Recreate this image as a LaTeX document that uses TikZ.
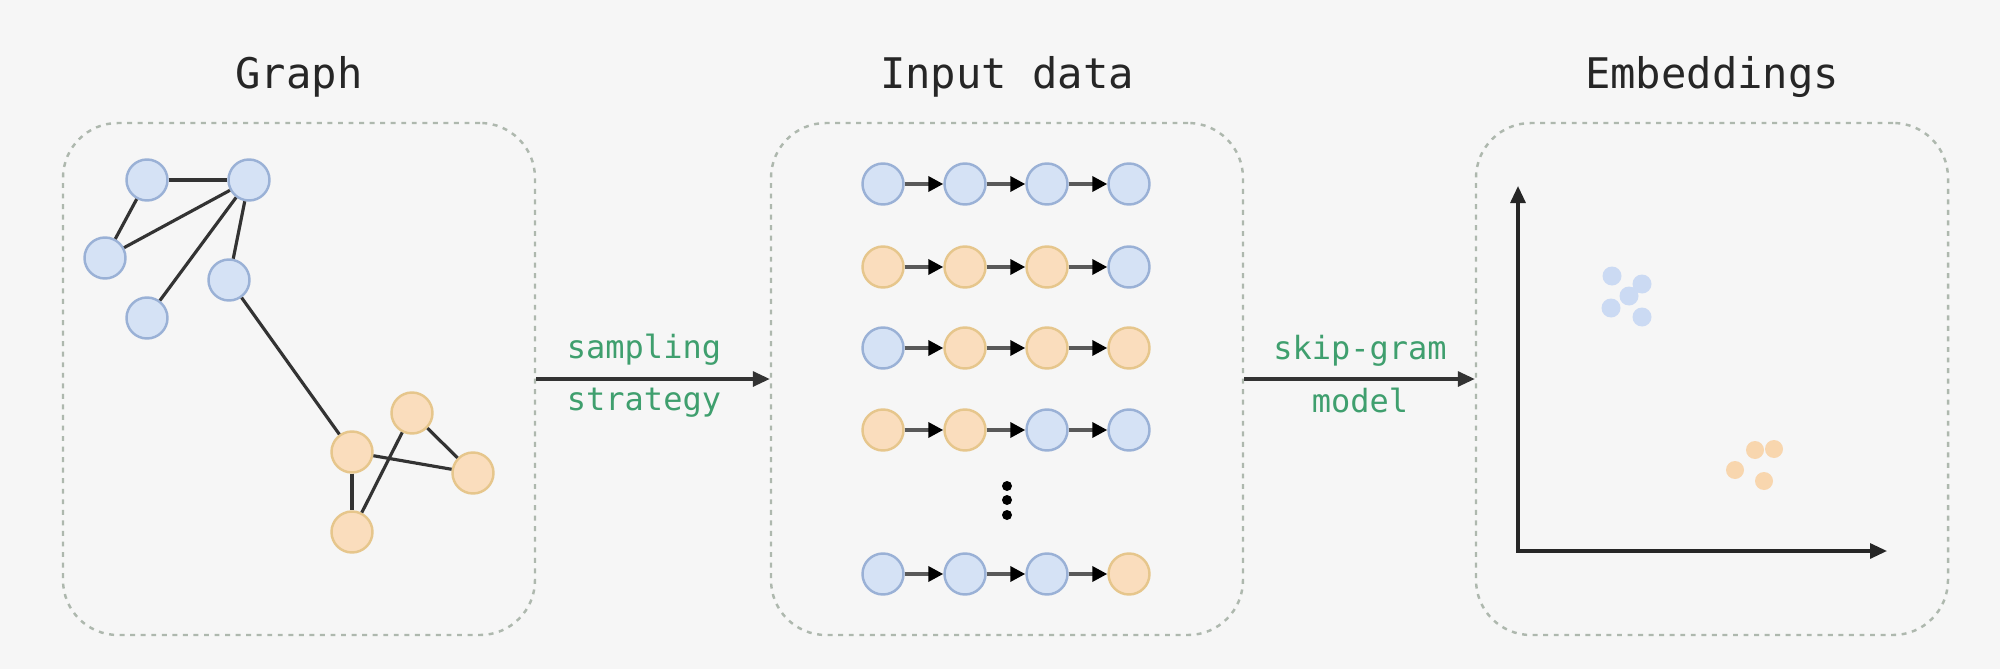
\documentclass[tikz,border=0pt]{standalone}
\usepackage{fontspec}
\setmonofont{DejaVu Sans Mono}
\usetikzlibrary{arrows.meta}

\definecolor{bgcol}{HTML}{F6F6F6}
\definecolor{bluefill}{HTML}{D5E2F5}
\definecolor{bluedraw}{HTML}{9AB1D6}
\definecolor{orangefill}{HTML}{FADDBD}
\definecolor{orangedraw}{HTML}{E6C68C}
\definecolor{boxline}{HTML}{AEB8AE}
\definecolor{labelgreen}{HTML}{3F9F6E}
\definecolor{embblue}{HTML}{CBDAF3}
\definecolor{embor}{HTML}{F8D6AE}

\tikzset{
	bnode/.style={circle, draw=bluedraw, fill=bluefill, line width=0.7pt, minimum size=0.41cm, inner sep=0pt},
	onode/.style={circle, draw=orangedraw, fill=orangefill, line width=0.7pt, minimum size=0.41cm, inner sep=0pt},
	panel/.style={draw=boxline, dash pattern=on 1.4pt off 1.6pt, line width=0.7pt, rounded corners=0.55cm, minimum width=4.72cm, minimum height=5.12cm},
	title/.style={font=\ttfamily\fontsize{12}{14}\selectfont, text=black!85, anchor=base},
	steplabel/.style={font=\ttfamily\fontsize{9.1}{11}\selectfont, text=labelgreen, anchor=base},
	link/.style={draw=black!80, line width=0.9pt},
	walk/.style={draw=black!65, line width=1pt, -{Triangle[length=0.15cm, width=0.15cm, color=black]}},
	flow/.style={draw=black!80, line width=0.9pt, -{Triangle[length=0.17cm, width=0.15cm]}},
	dotnode/.style={circle, fill=black, inner sep=0pt, minimum size=0.1cm},
	bemb/.style={circle, fill=embblue, inner sep=0pt, minimum size=0.19cm},
	oemb/.style={circle, fill=embor, inner sep=0pt, minimum size=0.18cm}
}

\begin{document}
\begin{tikzpicture}
	% Background
	\fill[bgcol] (0,0) rectangle (20,6.69);
	\useasboundingbox (0,0) rectangle (20,6.69);
	
	% Panels and titles
	\node[panel] (graph) at (2.99,2.90) {};
	\node[panel] (input) at (10.07,2.90) {};
	\node[panel] (embed) at (17.12,2.90) {};
	\node[title] (tgraph) at (2.99,5.81) {Graph};
	\node[title] (tinput) at (10.07,5.81) {Input data};
	\node[title] (tembed) at (17.12,5.81) {Embeddings};
	
	% Graph nodes
	\node[bnode] (b1) at (1.47,4.89) {};
	\node[bnode] (b2) at (2.49,4.89) {};
	\node[bnode] (b3) at (1.05,4.11) {};
	\node[bnode] (b4) at (2.29,3.89) {};
	\node[bnode] (b5) at (1.47,3.51) {};
	\node[onode] (o1) at (4.12,2.56) {};
	\node[onode] (o2) at (3.52,2.17) {};
	\node[onode] (o3) at (4.73,1.96) {};
	\node[onode] (o4) at (3.52,1.37) {};
	
	% Graph edges
	\draw[link] (b1) -- (b2);
	\draw[link] (b1) -- (b3);
	\draw[link] (b3) -- (b2);
	\draw[link] (b2) -- (b4);
	\draw[link] (b2) -- (b5);
	\draw[link] (b4) -- (o2);
	\draw[link] (o2) -- (o3);
	\draw[link] (o1) -- (o3);
	\draw[link] (o1) -- (o4);
	\draw[link] (o2) -- (o4);
	
	% Sampled walks
	\node[bnode] (r11) at (8.83,4.85) {};
	\node[bnode] (r12) at (9.65,4.85) {};
	\node[bnode] (r13) at (10.47,4.85) {};
	\node[bnode] (r14) at (11.29,4.85) {};
	\node[onode] (r21) at (8.83,4.02) {};
	\node[onode] (r22) at (9.65,4.02) {};
	\node[onode] (r23) at (10.47,4.02) {};
	\node[bnode] (r24) at (11.29,4.02) {};
	\node[bnode] (r31) at (8.83,3.21) {};
	\node[onode] (r32) at (9.65,3.21) {};
	\node[onode] (r33) at (10.47,3.21) {};
	\node[onode] (r34) at (11.29,3.21) {};
	\node[onode] (r41) at (8.83,2.39) {};
	\node[onode] (r42) at (9.65,2.39) {};
	\node[bnode] (r43) at (10.47,2.39) {};
	\node[bnode] (r44) at (11.29,2.39) {};
	\node[bnode] (r51) at (8.83,0.95) {};
	\node[bnode] (r52) at (9.65,0.95) {};
	\node[bnode] (r53) at (10.47,0.95) {};
	\node[onode] (r54) at (11.29,0.95) {};
	
	\draw[walk] (r11) -- (r12);
	\draw[walk] (r12) -- (r13);
	\draw[walk] (r13) -- (r14);
	\draw[walk] (r21) -- (r22);
	\draw[walk] (r22) -- (r23);
	\draw[walk] (r23) -- (r24);
	\draw[walk] (r31) -- (r32);
	\draw[walk] (r32) -- (r33);
	\draw[walk] (r33) -- (r34);
	\draw[walk] (r41) -- (r42);
	\draw[walk] (r42) -- (r43);
	\draw[walk] (r43) -- (r44);
	\draw[walk] (r51) -- (r52);
	\draw[walk] (r52) -- (r53);
	\draw[walk] (r53) -- (r54);
	
	% Vertical dots
	\node[dotnode] (d1) at (10.07,1.83) {};
	\node[dotnode] (d2) at (10.07,1.69) {};
	\node[dotnode] (d3) at (10.07,1.54) {};
	
	% Arrows between panels
	\draw[flow] (graph) -- (input);
	\draw[flow] (input) -- (embed);
	\node[steplabel] (s1) at (6.44,3.11) {sampling};
	\node[steplabel] (s2) at (6.44,2.59) {strategy};
	\node[steplabel] (m1) at (13.60,3.10) {skip-gram};
	\node[steplabel] (m2) at (13.60,2.57) {model};
	
	% Axes
	\coordinate (O) at (15.18,1.18);
	\coordinate (Y) at (15.18,4.83);
	\coordinate (X) at (18.87,1.18);
	\draw[draw=black!85, line width=0.9pt, {Triangle[length=0.17cm, width=0.15cm]}-{Triangle[length=0.17cm, width=0.15cm]}] (Y) -- (O) -- (X);
	
	% Embedded points
	\node[bemb] (e1) at (16.12,3.93) {};
	\node[bemb] (e2) at (16.42,3.85) {};
	\node[bemb] (e3) at (16.29,3.73) {};
	\node[bemb] (e4) at (16.11,3.61) {};
	\node[bemb] (e5) at (16.42,3.52) {};
	\node[oemb] (f1) at (17.55,2.19) {};
	\node[oemb] (f2) at (17.74,2.20) {};
	\node[oemb] (f3) at (17.35,1.99) {};
	\node[oemb] (f4) at (17.64,1.88) {};
\end{tikzpicture}
\end{document}
